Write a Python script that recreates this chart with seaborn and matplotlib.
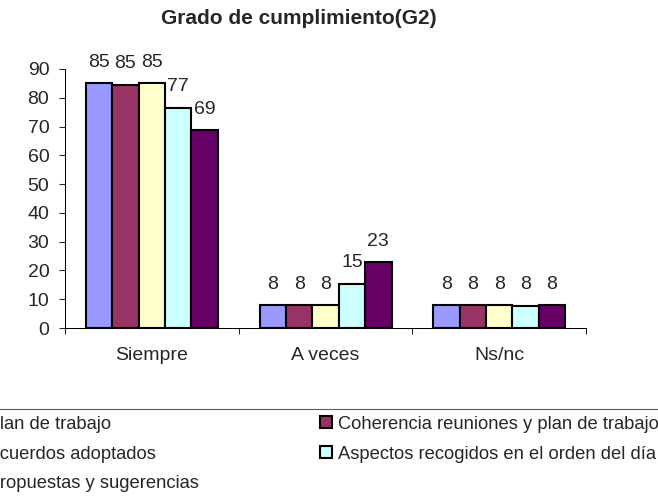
import numpy as np
import pandas as pd
import seaborn as sns
from matplotlib import pyplot as plt
from matplotlib.patches import Patch
from matplotlib.ticker import FixedLocator

# datos
categorias = ['Siempre', 'A veces', 'Ns/nc']
series = ['Cumplimiento plan de trabajo',
          'Coherencia reuniones y plan de trabajo',
          'Cumplimiento acuerdos adoptados',
          'Aspectos recogidos en el orden del día',
          'Cumplimiento propuestas y sugerencias']
plan_trabajo = [85.0, 7.9, 7.9]
coherencia = [84.6, 7.9, 7.9]
acuerdos = [85.0, 7.9, 7.9]
aspectos = [76.6, 15.3, 7.7]
propuestas = [68.8, 22.8, 7.9]
colores = ['#9999FF', '#993366', '#FFFFCC', '#CCFFFF', '#660066']

valores = [plan_trabajo, coherencia, acuerdos, aspectos, propuestas]
filas = []
for serie, vals in zip(series, valores):
    for cat, v in zip(categorias, vals):
        filas.append({'categoria': cat, 'serie': serie, 'valor': v})
df = pd.DataFrame(filas)

sns.set_style('ticks')
plt.rcParams['font.family'] = ['Liberation Sans', 'DejaVu Sans']

fig = plt.figure(figsize=(6.58, 4.96), dpi=100)
ax = fig.add_axes([0.0988, 0.3387, 0.7918, 0.5222])

sns.barplot(data=df, x='categoria', y='valor', hue='serie', hue_order=series,
            order=categorias, palette=colores, saturation=1, width=0.76,
            edgecolor='black', linewidth=1.5, legend=False, ax=ax)

for c in ax.containers:
    ax.bar_label(c, fmt='%.0f', padding=9, fontsize=14)

ax.set_xlim(-0.5, 2.5)
ax.set_ylim(0, 90)
ax.set_yticks(range(0, 91, 10))
ax.set_xlabel('')
ax.set_ylabel('')
ax.xaxis.set_minor_locator(FixedLocator([-0.5, 0.5, 1.5, 2.5]))
ax.tick_params(axis='x', which='major', length=0, pad=14, labelsize=14)
ax.tick_params(axis='x', which='minor', length=4.3, width=0.75, direction='out', bottom=True)
ax.tick_params(axis='y', length=4.3, width=0.75, pad=7, labelsize=14, direction='out')
sns.despine(ax=ax)
for s in ['left', 'bottom']:
    ax.spines[s].set_linewidth(0.75)
    ax.spines[s].set_color('black')

fig.text(298.5 / 658, 0.9637, 'Grado de cumplimiento(G2)', ha='center', va='center',
         fontsize=15, fontweight='bold')

handles = [Patch(facecolor=col, edgecolor='black', linewidth=1.5, label=s)
           for s, col in zip(series, colores)]
orden = [0, 2, 4, 1, 3]
leg = fig.legend(handles=[handles[i] for i in orden], loc='upper right',
                 bbox_to_anchor=(666 / 658, 1 - 409 / 496), ncol=2, fontsize=13.25,
                 frameon=True, fancybox=False, edgecolor='#333333', borderaxespad=0,
                 borderpad=0.36, labelspacing=0.7, handlelength=0.65, handleheight=0.65,
                 handletextpad=0.33, columnspacing=6.63)
leg.get_frame().set_linewidth(0.8)

fig.savefig('out.png', dpi=100)
